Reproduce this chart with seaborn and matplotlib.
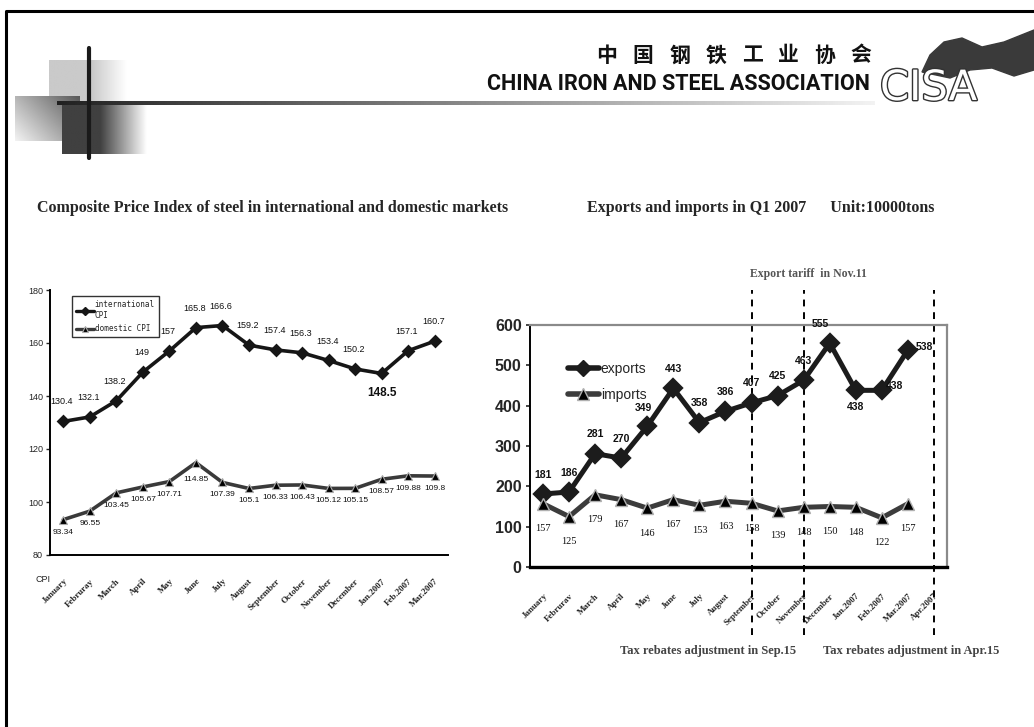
import numpy as np
import pandas as pd
import matplotlib
matplotlib.use("Agg")
import matplotlib.pyplot as plt
import matplotlib.patheffects as pe
from matplotlib.lines import Line2D
from matplotlib.patches import Polygon
import seaborn as sns

# ---- data -------------------------------------------------------------
cpi_months = ["January", "Februray", "March", "April", "May", "June", "July",
              "August", "September", "October", "November", "December",
              "Jan.2007", "Feb.2007", "Mar.2007"]
intl_cpi = [130.4, 132.1, 138.2, 149, 157, 165.8, 166.6, 159.2, 157.4, 156.3,
            153.4, 150.2, 148.5, 157.1, 160.7]
dom_cpi = [93.34, 96.55, 103.45, 105.67, 107.71, 114.85, 107.39, 105.1, 106.33,
           106.43, 105.12, 105.15, 108.57, 109.88, 109.8]

trade_months = ["January", "Februrav", "March", "April", "May", "June", "July",
                "August", "September", "October", "November", "December",
                "Jan.2007", "Feb.2007", "Mar.2007", "Apr.2007"]
exports = [181, 186, 281, 270, 349, 443, 358, 386, 407, 425, 463, 555, 438, 438, 538]
imports = [157, 125, 179, 167, 146, 167, 153, 163, 158, 139, 148, 150, 148, 122, 157]
policy_months = ["September", "November", "Apr.2007"]

sns.set_style("white")
plt.rcParams["font.family"] = ["DejaVu Sans"]
NARROW = ["Liberation Sans", "DejaVu Sans"]
SERIF = ["Liberation Serif", "DejaVu Serif"]

W, H = 1034, 727
fig = plt.figure(figsize=(W / 100, H / 100), dpi=100)

# ---- slide decoration (pixel coordinates) ------------------------------
deco = fig.add_axes([0, 0, 1, 1], zorder=0)
deco.set_xlim(0, W)
deco.set_ylim(H, 0)
deco.axis("off")

deco.plot([6, 6, W], [H, 11, 11], color="black", lw=2.2)

def hgrad(x0, x1, y0, y1, solid_to, end_x, gray):
    xs = np.linspace(x0, x1, 200)
    vals = np.where(xs <= solid_to, gray,
                    gray + (1 - gray) * np.clip((xs - solid_to) / (end_x - solid_to), 0, 1))
    deco.imshow(vals[None, :], extent=(x0, x1, y1, y0), cmap="gray", vmin=0, vmax=1,
                aspect="auto", interpolation="bilinear")

hgrad(49, 130, 60, 102, 92, 127, 0.79)
u, v = np.meshgrid(np.linspace(0, 1, 60), np.linspace(0, 1, 60))
diag = 0.95 - 0.6 * (u * 0.6 + (1 - v) * 0.4)
deco.imshow(diag, extent=(15, 80, 141, 96), cmap="gray", vmin=0, vmax=1,
            aspect="auto", interpolation="bilinear")
hgrad(62, 150, 105, 154, 100, 147, 0.25)
bar = np.linspace(0.13, 0.95, 300)
deco.imshow(bar[None, :], extent=(57, 875, 105, 101), cmap="gray", vmin=0, vmax=1,
            aspect="auto", interpolation="bilinear")
deco.plot([89, 89], [48, 158], color="#1a1a1a", lw=3)

for k, ch in enumerate("中国钢铁工业协会"):
    deco.text(607 + k * 36.3, 55, ch, ha="center", va="center", fontsize=15,
              fontweight="bold", family=["Noto Sans CJK SC", "DejaVu Sans"], color="#111")
deco.text(870, 84, "CHINA IRON AND STEEL ASSOCIATION", ha="right", va="center",
          fontsize=15.5, fontweight="bold", family=["Roboto", "DejaVu Sans"], color="#111")
deco.add_patch(Polygon([(922, 72), (930, 55), (944, 42), (962, 38), (982, 47), (1004, 42),
                        (1034, 30), (1034, 70), (1014, 76), (992, 68), (970, 70), (950, 78)],
                       closed=True, color="#3a3a3a"))
deco.text(880, 88, "CISA", ha="left", va="center", fontsize=30, fontweight="normal",
          family=["DejaVu Sans"], color="white",
          path_effects=[pe.withStroke(linewidth=2, foreground="#333")])

fig.text(37 / W, 1 - 208 / H,
         "Composite Price Index of steel in international and domestic markets",
         ha="left", va="center", fontsize=11.5, fontweight="bold", family=SERIF)
fig.text(587 / W, 1 - 208 / H, "Exports and imports in Q1 2007      Unit:10000tons",
         ha="left", va="center", fontsize=11.5, fontweight="bold", family=SERIF)

# ---- left chart: composite price index --------------------------------
ax1 = fig.add_axes([50 / W, 1 - 555 / H, 398 / W, 265 / H], zorder=2)
ax1.patch.set_alpha(0)
cpi_df = pd.DataFrame({"month": cpi_months, "intl": intl_cpi, "dom": dom_cpi})
sns.pointplot(data=cpi_df, x="month", y="intl", order=cpi_months, color="#161616",
              markers="D", errorbar=None, ax=ax1, markersize=5.5, linewidth=2.6)
sns.pointplot(data=cpi_df, x="month", y="dom", order=cpi_months, color="#3a3a3a",
              markers="^", errorbar=None, ax=ax1, markersize=6, linewidth=2.6,
              markerfacecolor="black", markeredgecolor="#aaaaaa", markeredgewidth=0.8)
ax1.set_xlim(-0.5, len(cpi_months) - 0.5)
ax1.set_ylim(80, 180)
ax1.set_yticks(range(80, 181, 20))
ax1.set_xlabel("")
ax1.set_ylabel("")
ax1.set_xticks(range(len(cpi_months)))
ax1.set_xticklabels(cpi_months, rotation=45, ha="right", rotation_mode="anchor",
                    fontsize=6.5, fontweight="bold", family=SERIF)
ax1.set_xticks(np.arange(0.5, len(cpi_months) - 0.5, 1), minor=True)
ax1.tick_params(axis="x", which="major", length=0, pad=16)
ax1.tick_params(axis="x", which="minor", length=4, direction="in", width=1)
ax1.tick_params(axis="y", length=3, width=1, labelsize=6.5, pad=2, left=True)
for lab in ax1.get_yticklabels():
    lab.set_family(NARROW)
for side in ["top", "right"]:
    ax1.spines[side].set_visible(False)
for side in ["left", "bottom"]:
    ax1.spines[side].set_linewidth(1.4)
    ax1.spines[side].set_color("black")

for i, val in enumerate(intl_cpi):
    if cpi_months[i] == "Jan.2007":
        ax1.annotate(f"{val:g}", (i, val), xytext=(0, -14), textcoords="offset points",
                     ha="center", va="center", fontsize=8.5, fontweight="bold",
                     family=NARROW, color="#111")
    else:
        ax1.annotate(f"{val:g}", (i, val), xytext=(-1, 14), textcoords="offset points",
                     ha="center", va="center", fontsize=6.5, family=NARROW, color="#111")
for i, val in enumerate(dom_cpi):
    dy = -12 if cpi_months[i] == "June" else -9
    ax1.annotate(f"{val:g}", (i, val), xytext=(0, dy), textcoords="offset points",
                 ha="center", va="center", fontsize=6, family=NARROW, color="#111")

fig.text(36 / W, 1 - 580 / H, "CPI", ha="left", va="center", fontsize=6.5,
         family=NARROW, color="#222")

h1 = [Line2D([], [], color="#161616", marker="D", lw=2.4, ms=4.5),
      Line2D([], [], color="#3a3a3a", marker="^", lw=2.4, ms=5, mfc="black", mec="#aaaaaa",
             mew=0.8)]
leg1 = ax1.legend(h1, ["international\nCPI", "domestic CPI"], loc="upper left",
                  bbox_to_anchor=(0.045, 0.99), frameon=True, fancybox=False,
                  edgecolor="black", prop={"family": "DejaVu Sans Mono", "size": 5.5},
                  handlelength=2.4, handletextpad=0.1, borderpad=0.5, labelspacing=0.6)
leg1.get_frame().set_linewidth(1)

# ---- right chart: exports and imports ---------------------------------
ax2 = fig.add_axes([530 / W, 1 - 567 / H, 417 / W, 242 / H], zorder=2)
ax2.patch.set_alpha(0)
trade_df = pd.DataFrame({"month": trade_months[:len(exports)], "exports": exports,
                         "imports": imports})
sns.pointplot(data=trade_df, x="month", y="exports", order=trade_months, color="#1c1c1c",
              markers="D", errorbar=None, ax=ax2, markersize=8, linewidth=3.6)
sns.pointplot(data=trade_df, x="month", y="imports", order=trade_months, color="#3c3c3c",
              markers="^", errorbar=None, ax=ax2, markersize=9, linewidth=3.6,
              markerfacecolor="black", markeredgecolor="#b0b0b0", markeredgewidth=1)
ax2.set_xlim(-0.5, len(trade_months) - 0.5)
ax2.set_ylim(0, 600)
ax2.set_yticks(range(0, 601, 100))
ax2.set_xlabel("")
ax2.set_ylabel("")
ax2.set_xticks(range(len(trade_months)))
ax2.set_xticklabels(trade_months, rotation=45, ha="right", rotation_mode="anchor",
                    fontsize=6.5, fontweight="bold", family=SERIF)
ax2.set_xticks(np.arange(0.5, len(trade_months) - 0.5, 1), minor=True)
ax2.tick_params(axis="x", which="major", length=0, pad=18)
ax2.tick_params(axis="x", which="minor", length=4, direction="in", width=1.2)
ax2.tick_params(axis="y", length=3, width=1.2, labelsize=11.5, pad=3, left=True)
for lab in ax2.get_yticklabels():
    lab.set_family(NARROW)
    lab.set_fontweight("bold")
ax2.spines["left"].set_linewidth(1.4)
ax2.spines["left"].set_color("black")
ax2.spines["bottom"].set_linewidth(2.4)
ax2.spines["bottom"].set_color("black")
for side in ["top", "right"]:
    ax2.spines[side].set_linewidth(1.6)
    ax2.spines[side].set_color("#8a8a8a")

for m in policy_months:
    ax2.axvline(trade_months.index(m), ymin=-0.28, ymax=1.145, color="black", lw=1.4,
                ls=(0, (3.5, 3)), clip_on=False, zorder=1)

exp_offsets = {"May": (-3, 13), "July": (0, 14), "December": (-7, 14),
               "Jan.2007": (0, -12), "Feb.2007": (9, 3), "Mar.2007": (12, 2)}
for i, val in enumerate(exports):
    dx, dy = exp_offsets.get(trade_months[i], (0, 14))
    ax2.annotate(str(val), (i, val), xytext=(dx, dy), textcoords="offset points",
                 ha="center", va="center", fontsize=7.5, fontweight="bold",
                 family=NARROW, color="#111")
for i, val in enumerate(imports):
    ax2.annotate(str(val), (i, val), xytext=(0, -18), textcoords="offset points",
                 ha="center", va="center", fontsize=7.5, family=SERIF, color="#111")

h2 = [Line2D([], [], color="#1c1c1c", marker="D", lw=4, ms=8),
      Line2D([], [], color="#3c3c3c", marker="^", lw=4, ms=8, mfc="black", mec="#b0b0b0",
             mew=1)]
ax2.legend(h2, ["exports", "imports"], loc="upper left", bbox_to_anchor=(0.06, 0.9),
           frameon=False, prop={"family": NARROW, "size": 10},
           handlelength=2.3, handletextpad=0.1, labelspacing=0.85)

fig.text(808 / W, 1 - 274 / H, "Export tariff  in Nov.11", ha="center", va="center",
         fontsize=8.5, fontweight="bold", family=SERIF, color="#555")
fig.text(620 / W, 1 - 651 / H, "Tax rebates adjustment in Sep.15", ha="left",
         va="center", fontsize=9, fontweight="bold", family=SERIF, color="#444")
fig.text(823 / W, 1 - 651 / H, "Tax rebates adjustment in Apr.15", ha="left",
         va="center", fontsize=9, fontweight="bold", family=SERIF, color="#444")

fig.savefig("out.png", dpi=100)
